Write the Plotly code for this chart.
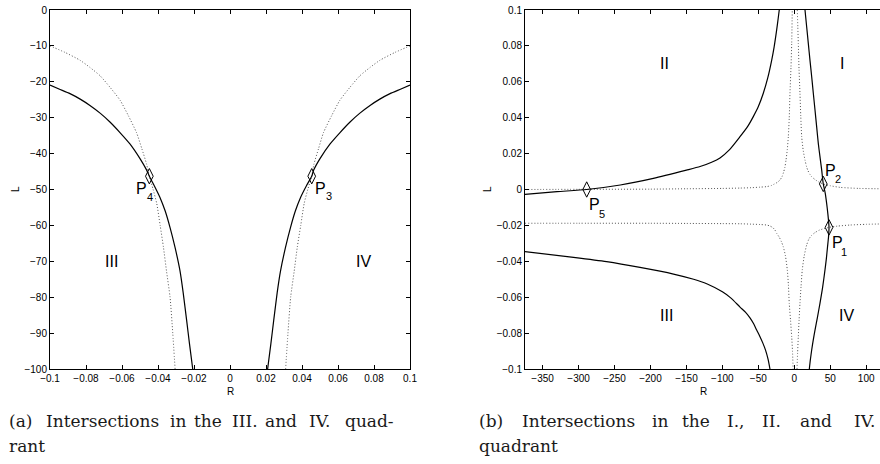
import plotly.graph_objects as go

W, H = 880, 464
MINUS = "\u2212"

# ---------------- (a) data ----------------
a_solid_left_R = [-0.1, -0.095, -0.0889, -0.083, -0.0778, -0.072, -0.0667, -0.061, -0.0556,
                  -0.050, -0.0463, -0.0448, -0.042, -0.0389, -0.036, -0.0333, -0.0305,
                  -0.0278, -0.026, -0.0241, -0.0225, -0.0207]
a_solid_left_L = [-20.9, -22.0, -23.3, -24.9, -26.6, -28.8, -31.2, -34.2, -37.3,
                  -41.4, -44.6, -46.3, -49.0, -52.2, -56.0, -60.6, -66.2,
                  -72.6, -78.8, -86.4, -93.0, -100.0]
a_solid_right_R = [0.1, 0.095, 0.0889, 0.083, 0.0778, 0.072, 0.0667, 0.061, 0.0556,
                   0.050, 0.0465, 0.0454, 0.0424, 0.0392, 0.0363, 0.0336, 0.0308,
                   0.0281, 0.0262, 0.0243, 0.0227, 0.0209]
a_solid_right_L = [-20.9, -22.0, -23.3, -24.9, -26.6, -28.8, -31.2, -34.2, -37.3,
                   -41.4, -44.6, -46.3, -49.0, -52.2, -56.0, -60.6, -66.2,
                   -72.6, -78.8, -86.4, -93.0, -100.0]
a_dot_left_R = [-0.1, -0.0917, -0.0833, -0.0778, -0.0722, -0.0667, -0.0611, -0.0565, -0.0519,
                -0.049, -0.0463, -0.0448, -0.0427, -0.0407, -0.0388, -0.0370, -0.0352,
                -0.0333, -0.0318, -0.0305]
a_dot_left_L = [-10.0, -11.8, -14.0, -16.0, -18.3, -21.5, -25.1, -29.4, -34.2,
                -38.6, -43.0, -46.3, -50.0, -53.9, -60.0, -66.0, -73.0,
                -80.0, -90.0, -100.0]
a_dot_right_R = [0.1, 0.0917, 0.0833, 0.0778, 0.0722, 0.0667, 0.0611, 0.0565, 0.0519,
                 0.0492, 0.0466, 0.0454, 0.0432, 0.0412, 0.0393, 0.0374, 0.0356,
                 0.0337, 0.0322, 0.0309]
a_dot_right_L = [-10.0, -11.8, -14.0, -16.0, -18.3, -21.5, -25.1, -29.4, -34.2,
                 -38.6, -43.0, -46.3, -50.0, -53.9, -60.0, -66.0, -73.0,
                 -80.0, -90.0, -100.0]
a_points_R = [-0.0448, 0.0454]
a_points_L = [-46.3, -46.3]
a_point_names = ["4", "3"]

a_xticks = [-0.1, -0.08, -0.06, -0.04, -0.02, 0, 0.02, 0.04, 0.06, 0.08, 0.1]
a_xticktext = [MINUS + "0.1", MINUS + "0.08", MINUS + "0.06", MINUS + "0.04", MINUS + "0.02",
               "0", "0.02", "0.04", "0.06", "0.08", "0.1"]
a_yticks = [-100, -90, -80, -70, -60, -50, -40, -30, -20, -10, 0]
a_yticktext = [MINUS + "100", MINUS + "90", MINUS + "80", MINUS + "70", MINUS + "60",
               MINUS + "50", MINUS + "40", MINUS + "30", MINUS + "20", MINUS + "10", "0"]

# ---------------- (b) data ----------------
b_solid_II_R = [-374.6, -330, -288.7, -242, -196, -150, -131, -115, -103.3, -90, -75.5,
                -65, -57, -50, -43.1, -37, -31.4, -28, -24.5, -22.5, -20.9]
b_solid_II_L = [-0.0027, -0.0012, 0.0, 0.0025, 0.0062, 0.0108, 0.0128, 0.0152, 0.0176,
                0.0222, 0.0294, 0.0350, 0.0406, 0.0462, 0.0536, 0.0620, 0.0721,
                0.0795, 0.0889, 0.0950, 0.1]
b_solid_III_R = [-374.6, -307, -261, -214.6, -168, -140, -121.8, -100, -88, -75.5, -68,
                 -61.6, -56.5, -52.3, -47.7, -44, -40, -36.5, -33.8]
b_solid_III_L = [-0.0346, -0.0378, -0.0402, -0.0434, -0.0471, -0.0500, -0.0525, -0.0570,
                 -0.0605, -0.0655, -0.0683, -0.0715, -0.0748, -0.0783, -0.0820,
                 -0.0853, -0.0895, -0.0945, -0.1]
b_solid_I_R = [14.9, 17.2, 19.5, 21.8, 24.2, 26.5, 28.8, 31.1, 33.4, 35.8, 38.1, 40.3,
               43.0, 45.0, 46.8, 48.3, 47.6, 46.2, 44.6, 42.7, 39.4, 35.7, 32.2, 28.8,
               26.3, 24.2, 22.4, 20.9]
b_solid_I_L = [0.1, 0.0907, 0.0814, 0.0721, 0.0628, 0.0535, 0.0443, 0.0350, 0.0257,
               0.0180, 0.0109, 0.0031, -0.0020, -0.0077, -0.0140, -0.0211, -0.0265,
               -0.0320, -0.0385, -0.0448, -0.0545, -0.0634, -0.0712, -0.0783,
               -0.0840, -0.0894, -0.0947, -0.1]
b_dot_up_R = [-374.6, -300, -200, -150, -100, -75, -60, -48, -38.4, -32, -28, -23.5, -19.9,
              -17, -15, -13, -11.5, -9.8, -8.3, -7, -6, -4.6, -3.6, -2.8,
              None, 4.2, 4.9, 5.6, 6.6, 7.9, 9, 10.3, 12.5, 14.9, 17, 19, 21.5, 24.2,
              30, 35, 40.3, 50, 63.6, 90, 120]
b_dot_up_L = [0.0, 0.0001, 0.0002, 0.0004, 0.0006, 0.0008, 0.0010, 0.0013, 0.0016,
              0.0022, 0.0030, 0.0040, 0.0053, 0.0072, 0.0095, 0.0125, 0.0164,
              0.0220, 0.0294, 0.0400, 0.0536, 0.0680, 0.0814, 0.1,
              None, 0.1, 0.0905, 0.0814, 0.0670, 0.0536, 0.0410, 0.0294, 0.0215,
              0.0164, 0.0128, 0.0105, 0.0086, 0.0071, 0.0052, 0.0040, 0.0031,
              0.0021, 0.0012, 0.0006, 0.0004]
b_dot_low_R = [-374.6, -300, -200, -150, -100, -75, -60, -48, -38.4, -34, -30, -27, -24.5,
               -21, -18, -15.3, -12.3, -9.7, -8.2, -7, -5.2, -3.6, -2.5, -1.6,
               None, 3.8, 4.6, 5.6, 6.7, 7.9, 9.4, 11.1, 13.8, 17.2, 20.5, 24, 28.8,
               35, 48.3, 60, 77.5, 100, 120]
b_dot_low_L = [-0.0188, -0.0188, -0.0188, -0.0189, -0.0190, -0.0191, -0.0193, -0.0195,
               -0.0198, -0.0203, -0.0212, -0.0225, -0.0244, -0.0265, -0.0290,
               -0.0319, -0.0370, -0.0448, -0.0530, -0.0634, -0.0730, -0.0820,
               -0.0900, -0.1,
               None, -0.1, -0.0910, -0.0820, -0.0725, -0.0634, -0.0540, -0.0448,
               -0.0370, -0.0309, -0.0275, -0.0256, -0.0240, -0.0226, -0.0211,
               -0.0204, -0.0198, -0.0194, -0.0192]
b_points_R = [48.3, 40.3, -288.7]
b_points_L = [-0.0211, 0.0031, 0.0]
b_point_names = ["1", "2", "5"]

b_xticks = [-350, -300, -250, -200, -150, -100, -50, 0, 50, 100]
b_xticktext = [MINUS + "350", MINUS + "300", MINUS + "250", MINUS + "200", MINUS + "150",
               MINUS + "100", MINUS + "50", "0", "50", "100"]
b_yticks = [-0.1, -0.08, -0.06, -0.04, -0.02, 0, 0.02, 0.04, 0.06, 0.08, 0.1]
b_yticktext = [MINUS + "0.1", MINUS + "0.08", MINUS + "0.06", MINUS + "0.04", MINUS + "0.02",
               "0", "0.02", "0.04", "0.06", "0.08", "0.1"]

# ---------------- figure ----------------
SOLID = dict(color="black", width=1.2, shape="spline", smoothing=0.6)
DOTTED = dict(color="#555555", width=1, dash="1px,2px", shape="spline", smoothing=0.6)
MARK = dict(symbol="diamond-tall-open", size=11, color="black", line=dict(color="black", width=1))

fig = go.Figure()


def add_line(x, y, style, xa, ya):
    fig.add_trace(go.Scatter(x=x, y=y, mode="lines", line=style, xaxis=xa, yaxis=ya,
                             showlegend=False, hoverinfo="skip", connectgaps=False,
                             cliponaxis=True))


add_line(a_dot_left_R, a_dot_left_L, DOTTED, "x", "y")
add_line(a_dot_right_R, a_dot_right_L, DOTTED, "x", "y")
add_line(a_solid_left_R, a_solid_left_L, SOLID, "x", "y")
add_line(a_solid_right_R, a_solid_right_L, SOLID, "x", "y")
fig.add_trace(go.Scatter(x=a_points_R, y=a_points_L, mode="markers", marker=MARK,
                         xaxis="x", yaxis="y", showlegend=False))

add_line(b_dot_up_R, b_dot_up_L, DOTTED, "x2", "y2")
add_line(b_dot_low_R, b_dot_low_L, DOTTED, "x2", "y2")
add_line(b_solid_II_R, b_solid_II_L, SOLID, "x2", "y2")
add_line(b_solid_III_R, b_solid_III_L, SOLID, "x2", "y2")
add_line(b_solid_I_R, b_solid_I_L, SOLID, "x2", "y2")
fig.add_trace(go.Scatter(x=b_points_R, y=b_points_L, mode="markers", marker=MARK,
                         xaxis="x2", yaxis="y2", showlegend=False))

TICKFONT = dict(family="Liberation Sans, Arial", size=10, color="black")
axis_common = dict(showgrid=False, zeroline=False, showline=True, linecolor="black",
                   linewidth=1, ticks="inside", ticklen=4, tickcolor="black",
                   tickwidth=1, tickfont=TICKFONT, tickmode="array", automargin=False)

ydom = [1 - 369 / H, 1 - 10 / H]
fig.update_layout(
    width=W, height=H, margin=dict(l=0, r=0, t=0, b=0, pad=0, autoexpand=False),
    paper_bgcolor="white", plot_bgcolor="white", showlegend=False,
    xaxis=dict(axis_common, domain=[50 / W, 410 / W], range=[-0.1, 0.1],
               tickvals=a_xticks, ticktext=a_xticktext, mirror="allticks", anchor="y"),
    yaxis=dict(axis_common, domain=ydom, range=[-100, 0],
               tickvals=a_yticks, ticktext=a_yticktext, mirror="allticks", anchor="x"),
    xaxis2=dict(axis_common, domain=[525 / W, 1.0], range=[-374.5, 119.2],
                tickvals=b_xticks, ticktext=b_xticktext, mirror="allticks", anchor="y2"),
    yaxis2=dict(axis_common, domain=ydom, range=[-0.1, 0.1],
                tickvals=b_yticks, ticktext=b_yticktext, mirror=False, anchor="x2"),
)

ann = []
LAB = dict(family="Liberation Sans, Arial", size=10, color="black")
# axis titles
ann.append(dict(text="R", x=230 / W, y=1 - 391 / H, xref="paper", yref="paper",
                showarrow=False, font=LAB, xanchor="center", yanchor="middle"))
ann.append(dict(text="R", x=703 / W, y=1 - 391 / H, xref="paper", yref="paper",
                showarrow=False, font=LAB, xanchor="center", yanchor="middle"))
ann.append(dict(text="L", x=15 / W, y=1 - 189 / H, xref="paper", yref="paper",
                showarrow=False, font=LAB, textangle=-90, xanchor="center", yanchor="middle"))
ann.append(dict(text="L", x=487 / W, y=1 - 189 / H, xref="paper", yref="paper",
                showarrow=False, font=LAB, textangle=-90, xanchor="center", yanchor="middle"))

# quadrant labels
QF = dict(family="Liberation Sans, Arial", size=16, color="black")
quad_a = [("III", -0.066, -70), ("IV", 0.074, -70)]
quad_b = [("II", -181, 0.07), ("I", 66, 0.07), ("III", -177.5, -0.07), ("IV", 73, -0.07)]
for t, x, y in quad_a:
    ann.append(dict(text=t, x=x, y=y, xref="x", yref="y", showarrow=False, font=QF))
for t, x, y in quad_b:
    ann.append(dict(text=t, x=x, y=y, xref="x2", yref="y2", showarrow=False, font=QF))

# point labels: (P shift x, y), (subscript shift x, y)
PF = dict(family="Liberation Sans, Arial", size=16, color="black")
SF = dict(family="Liberation Sans, Arial", size=11, color="black")
offs_a = {"4": ((-8, -12), (0.5, -21)), "3": ((9, -12), (17.5, -20))}
offs_b = {"1": ((8, -15.5), (15, -24.5)), "2": ((7, 13), (15, 4.5)), "5": ((7.5, -15), (15.5, -24.5))}
for (x, y, n) in zip(a_points_R, a_points_L, a_point_names):
    (px, py), (sx, sy) = offs_a[n]
    ann.append(dict(text="P", x=x, y=y, xref="x", yref="y", xshift=px, yshift=py,
                    showarrow=False, font=PF))
    ann.append(dict(text=n, x=x, y=y, xref="x", yref="y", xshift=sx, yshift=sy,
                    showarrow=False, font=SF))
for (x, y, n) in zip(b_points_R, b_points_L, b_point_names):
    (px, py), (sx, sy) = offs_b[n]
    ann.append(dict(text="P", x=x, y=y, xref="x2", yref="y2", xshift=px, yshift=py,
                    showarrow=False, font=PF))
    ann.append(dict(text=n, x=x, y=y, xref="x2", yref="y2", xshift=sx, yshift=sy,
                    showarrow=False, font=SF))

# captions (justified word placement)
CF = dict(family="DejaVu Serif, Liberation Serif, serif", size=17, color="#1a1a1a")
cap_a1 = [("(a)", 6.7), ("Intersections", 44.3), ("in", 168.3), ("the", 191.7),
          ("III.", 230), ("and", 263.3), ("IV.", 306.7), ("quad-", 343.3)]
cap_a2 = [("rant", 6.7)]
cap_b1 = [("(b)", 476.7), ("Intersections", 520), ("in", 650), ("the", 680),
          ("I.,", 725), ("II.", 760), ("and", 798.3), ("IV.", 851.7)]
cap_b2 = [("quadrant", 476.7)]
for words, yc in ((cap_a1, 421), (cap_b1, 421), (cap_a2, 446), (cap_b2, 446)):
    for t, x in words:
        ann.append(dict(text=t, x=x / W, y=1 - yc / H, xref="paper", yref="paper",
                        showarrow=False, font=CF, xanchor="left", yanchor="middle"))

fig.update_layout(annotations=ann)
fig.write_html("out.html")
